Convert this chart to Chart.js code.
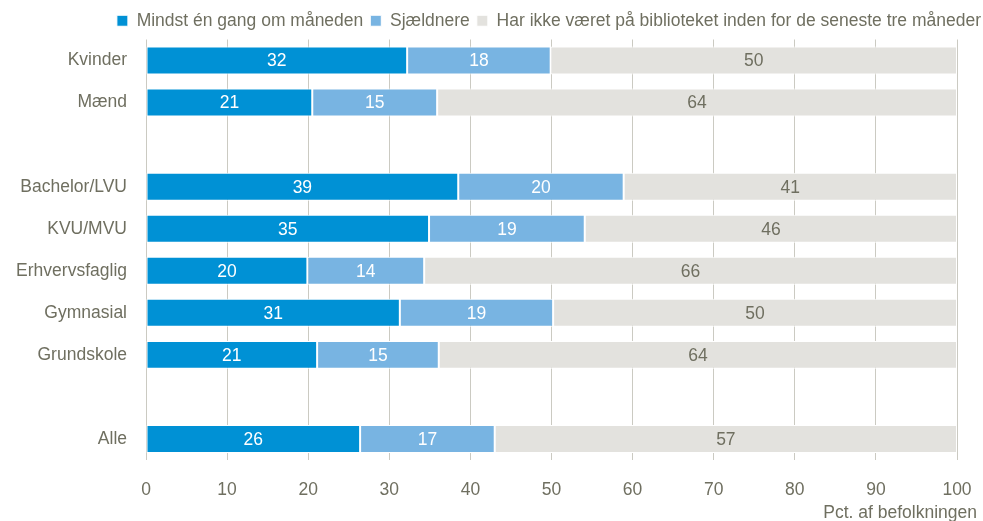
<!DOCTYPE html>
<html><head><meta charset="utf-8">
<script src="https://cdn.jsdelivr.net/npm/chart.js@4/dist/chart.umd.min.js"></script>
<style>html,body{margin:0;padding:0;background:#fff}#wrap{width:983px;height:521px}</style>
</head><body><div id="wrap"><canvas id="c" width="983" height="521"></canvas></div>
<script>
const categories = ['Kvinder','Mænd','','Bachelor/LVU','KVU/MVU','Erhvervsfaglig','Gymnasial','Grundskole','','Alle'];
const seriesNames = ['Mindst én gang om måneden','Sjældnere','Har ikke været på biblioteket inden for de seneste tre måneder'];
const monthly = [32.2, 20.5, null, 38.5, 34.9, 19.9, 31.3, 21.1, null, 26.4];
const rarely  = [17.7, 15.4, null, 20.4, 19.2, 14.4, 18.9, 15.0, null, 16.6];
const never   = [50.1, 64.1, null, 41.1, 45.9, 65.7, 49.8, 63.9, null, 57.0];
const xTicks = [0,10,20,30,40,50,60,70,80,90,100];
const axisTitle = 'Pct. af befolkningen';

const FONT = '"Liberation Sans",Arial,sans-serif';
const FS = 17.5;
const TXT = '#6f6f60';
const colors = ['#0091d5','#78b4e2','#e3e2de'];
const labelColors = ['#ffffff','#ffffff','#6f6f60'];

const barLabels = {
  id:'barLabels',
  afterDatasetsDraw(chart){
    const ctx = chart.ctx;
    ctx.save();
    ctx.font = FS + 'px ' + FONT;
    ctx.textAlign = 'center';
    ctx.textBaseline = 'middle';
    chart.data.datasets.forEach((ds, i) => {
      const meta = chart.getDatasetMeta(i);
      meta.data.forEach((el, j) => {
        const v = ds.data[j];
        if (v == null) return;
        ctx.fillStyle = labelColors[i];
        ctx.fillText(String(Math.round(v)), (el.x + el.base)/2, el.y + 1);
      });
    });
    ctx.restore();
  }
};

const layoutTweaks = {
  id:'layoutTweaks',
  afterLayout(chart){
    const s = chart.scales.x;
    if (!s._titleWrapped) {
      const orig = s.drawTitle.bind(s);
      s.drawTitle = function(){ const r = this.right; this.right = r + 20; orig(); this.right = r; };
      s._titleWrapped = true;
    }
  },
  beforeDraw(chart){
    if (chart.legend) { chart.legend.right = chart.width + 5; }
  },
  beforeDatasetsDraw(){},
};

new Chart(document.getElementById('c'), {
  type:'bar',
  data:{
    labels:categories,
    datasets:[monthly, rarely, never].map((d,i)=>({
      label:seriesNames[i], data:d, backgroundColor:colors[i],
      borderColor:'#ffffff', borderWidth:1, borderSkipped:false,
      barPercentage:0.7, categoryPercentage:0.95
    }))
  },
  options:{
    indexAxis:'y', responsive:false, animation:false,
    layout:{padding:{left:0,right:0,top:5,bottom:0}},
    plugins:{
      legend:{position:'top', align:'end',
        labels:{boxWidth:11, boxHeight:11, padding:7, color:TXT, font:{family:FONT,size:FS}}},
      tooltip:{enabled:false}
    },
    scales:{
      x:{stacked:true, min:0, max:100,
        afterBuildTicks(s){ s.ticks = xTicks.map(v=>({value:v})); },
        afterFit(s){ s.height = 61; s.paddingRight = 26; s.paddingLeft = 0; },
        grid:{color:'#cbcac2', lineWidth:1, drawTicks:false},
        border:{display:false},
        ticks:{color:TXT, font:{family:FONT,size:FS}, padding:20},
        title:{display:true, text:axisTitle, align:'end', color:TXT, font:{family:FONT,size:FS}, padding:{top:0,bottom:-3}}
      },
      y:{stacked:true,
        afterFit(s){ s.width = 146; },
        grid:{display:false}, border:{display:false},
        ticks:{color:TXT, font:{family:FONT,size:FS}, padding:11}
      }
    }
  },
  plugins:[barLabels, layoutTweaks]
});
</script></body></html>
